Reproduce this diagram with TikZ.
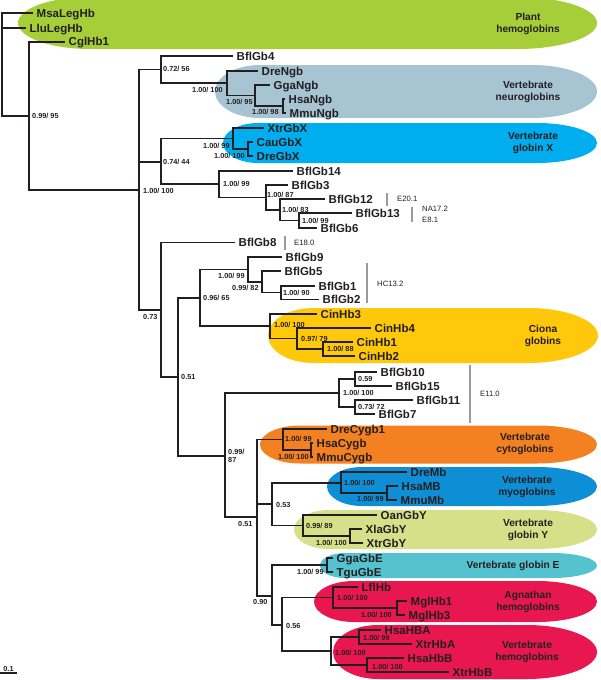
\documentclass[tikz,border=0pt]{standalone}
\usepackage{fontspec}
\setmainfont{Liberation Sans}
\usepackage{xcolor}
\usetikzlibrary{positioning}
\definecolor{treeline}{HTML}{231F20}
\definecolor{bargray}{HTML}{9A9A9A}
\definecolor{plantgreen}{HTML}{A6CE39}
\definecolor{ngbblue}{HTML}{A7C4D3}
\definecolor{gbxblue}{HTML}{00ADEE}
\definecolor{cionayellow}{HTML}{FFC80B}
\definecolor{cygborange}{HTML}{F38021}
\definecolor{mbblue}{HTML}{0E8FD5}
\definecolor{gbygreen}{HTML}{D5E188}
\definecolor{gbecyan}{HTML}{55C3CF}
\definecolor{hbred}{HTML}{E9174F}
\tikzset{
  branch/.style={draw=treeline, line width=1.8pt},
  leaf/.style={anchor=west, inner xsep=3.5pt, inner ysep=0pt, text height=8.2pt,
               text depth=0pt, text=treeline, font=\fontsize{11.5}{12}\selectfont\bfseries},
  supp/.style={anchor=west, inner sep=0pt, text=treeline, font=\fontsize{7.3}{8}\selectfont\bfseries},
  cladetxt/.style={align=center, inner sep=0pt, text=treeline,
                   font=\fontsize{10.2}{12}\selectfont\bfseries},
  grpbar/.style={draw=bargray, line width=2.6pt},
  grptxt/.style={anchor=west, align=left, inner sep=0pt, text=treeline,
                 font=\fontsize{7.7}{11}\selectfont},
}
% leaf: name = label, tip x, y
\newcommand{\leaf}[3]{\node[leaf] (#1) at (#2,#3) {#1};}
% support value of an inner node
\newcommand{\supp}[4]{\node[supp] (s#1) at (#2,#3) {#4};}
% coloured clade background: colour, left, right, centre y, half height, left/right radius
\newcommand{\cladebg}[7]{%
  \fill[#1] (#2+#6,#4-#5) -- (#3-#7,#4-#5)
    arc[start angle=-90, end angle=90, x radius=#7, y radius=#5]
    -- (#2+#6,#4+#5)
    arc[start angle=90, end angle=270, x radius=#6, y radius=#5] -- cycle;}

\begin{document}
\begin{tikzpicture}[x=1pt, y=-1pt]
  \useasboundingbox (0,0) rectangle (600,680);

  % clade backgrounds
  \cladebg{plantgreen}{18}{597}{23}{26}{72}{80}
  \cladebg{ngbblue}{215}{597}{91.5}{26.5}{45}{65}
  \cladebg{gbxblue}{223}{597}{143}{20}{35}{60}
  \cladebg{cionayellow}{268}{598}{335.5}{27.5}{45}{70}
  \cladebg{cygborange}{260}{597}{444.5}{19}{40}{60}
  \cladebg{mbblue}{327}{597}{486.5}{19.5}{35}{60}
  \cladebg{gbygreen}{294}{597}{529.5}{19.5}{35}{60}
  \cladebg{gbecyan}{320}{597}{565.5}{12.5}{25}{45}
  \cladebg{hbred}{314}{597}{601.5}{20.5}{40}{60}
  \cladebg{hbred}{333}{597}{652}{27}{45}{70}

  \node[cladetxt] (lPlant) at (528,24) {Plant\\hemoglobins};
  \node[cladetxt] (lNgb) at (528,91.5) {Vertebrate\\neuroglobins};
  \node[cladetxt] (lGbX) at (533,143) {Vertebrate\\globin X};
  \node[cladetxt] (lCin) at (543,335.5) {Ciona\\globins};
  \node[cladetxt] (lCygb) at (525,444) {Vertebrate\\cytoglobins};
  \node[cladetxt] (lMb) at (527,486.5) {Vertebrate\\myoglobins};
  \node[cladetxt] (lGbY) at (528,529.5) {Vertebrate\\globin Y};
  \node[cladetxt] (lGbE) at (513,565.5) {Vertebrate globin E};
  \node[cladetxt] (lAgn) at (528,601.5) {Agnathan\\hemoglobins};
  \node[cladetxt] (lHb) at (527,652) {Vertebrate\\hemoglobins};

  % inner nodes
  \coordinate (root) at (2,65);
  \coordinate (nCgl) at (29,116);
  \coordinate (nMeta) at (139,190);
  \coordinate (nNgb4) at (161,69.5);
  \coordinate (Ngb) at (227,83);
  \coordinate (Ngb2) at (255,95.5);
  \coordinate (Ngb3) at (283,106);
  \coordinate (nGbX14) at (161,162);
  \coordinate (GbX) at (233,138.5);
  \coordinate (GbX2) at (248,149);
  \coordinate (nBfl14) at (219,184);
  \coordinate (nBfl3) at (266,197.5);
  \coordinate (nBfl12) at (280,210);
  \coordinate (nBfl13) at (299,220.5);
  \coordinate (nBfl8) at (161,310);
  \coordinate (nCin) at (178,377);
  \coordinate (nBfl9Cin) at (200,298);
  \coordinate (nBfl9) at (248,269.5);
  \coordinate (nBfl5) at (262,282);
  \coordinate (nBfl1) at (281,292.5);
  \coordinate (Cin) at (270,326);
  \coordinate (Cin4) at (297,338.5);
  \coordinate (Cin1) at (323,349);
  \coordinate (nVert) at (225,456);
  \coordinate (nBfl10) at (339,393);
  \coordinate (nBfl15) at (355,379);
  \coordinate (nBfl7) at (355,407);
  \coordinate (nCygb) at (257,517);
  \coordinate (Cygb) at (283,439.5);
  \coordinate (Cygb2) at (311,450);
  \coordinate (nMbY) at (272,504);
  \coordinate (Mb) at (341,483);
  \coordinate (Mb2) at (387,493);
  \coordinate (GbY) at (303,525.5);
  \coordinate (GbY2) at (350,536);
  \coordinate (nGbE) at (272,596);
  \coordinate (GbE) at (327,565);
  \coordinate (nHb) at (282,625);
  \coordinate (Agn) at (333,597.5);
  \coordinate (Mgl) at (397,608);
  \coordinate (Hb) at (331,651);
  \coordinate (HbA) at (359,637);
  \coordinate (HbB) at (367,665);

  % leaves
  \leaf{MsaLegHb}{33}{13.3}
  \leaf{LluLegHb}{26}{28}
  \leaf{CglHb1}{65}{41.7}
  \leaf{BflGb4}{233}{56}
  \leaf{DreNgb}{258}{71}
  \leaf{GgaNgb}{270}{85}
  \leaf{HsaNgb}{285}{99}
  \leaf{MmuNgb}{286}{113}
  \leaf{XtrGbX}{264}{128}
  \leaf{CauGbX}{253}{142}
  \leaf{DreGbX}{253}{156}
  \leaf{BflGb14}{293}{171}
  \leaf{BflGb3}{288}{185}
  \leaf{BflGb12}{325}{199}
  \leaf{BflGb13}{352}{213}
  \leaf{BflGb6}{317}{228}
  \leaf{BflGb8}{235}{242.5}
  \leaf{BflGb9}{282}{257}
  \leaf{BflGb5}{281}{271}
  \leaf{BflGb1}{315}{286}
  \leaf{BflGb2}{319}{299.5}
  \leaf{CinHb3}{317}{314}
  \leaf{CinHb4}{371}{328}
  \leaf{CinHb1}{353}{342}
  \leaf{CinHb2}{355}{356}
  \leaf{BflGb10}{377}{372}
  \leaf{BflGb15}{392}{386}
  \leaf{BflGb11}{413}{400}
  \leaf{BflGb7}{375}{414}
  \leaf{DreCygb1}{327}{429}
  \leaf{HsaCygb}{313}{443}
  \leaf{MmuCygb}{313}{457}
  \leaf{DreMb}{407}{472}
  \leaf{HsaMB}{398}{486}
  \leaf{MmuMb}{397}{500}
  \leaf{OanGbY}{377}{515}
  \leaf{XlaGbY}{362}{529}
  \leaf{XtrGbY}{363}{543}
  \leaf{GgaGbE}{333}{558}
  \leaf{TguGbE}{333}{572}
  \leaf{LflHb}{358}{587}
  \leaf{MglHb1}{407}{601}
  \leaf{MglHb3}{405}{615}
  \leaf{HsaHBA}{381}{630}
  \leaf{XtrHbA}{412}{644}
  \leaf{HsaHbB}{404}{658}
  \leaf{XtrHbB}{449}{672}

  % branches
  \draw[branch] (root) |- (MsaLegHb) (root) |- (LluLegHb) (root) |- (nCgl);
  \draw[branch] (nCgl) |- (CglHb1) (nCgl) |- (nMeta);
  \draw[branch] (nMeta) |- (nNgb4) (nMeta) |- (nGbX14) (nMeta) |- (nBfl8);
  \draw[branch] (nNgb4) |- (BflGb4) (nNgb4) |- (Ngb);
  \draw[branch] (Ngb) |- (DreNgb) (Ngb) |- (Ngb2);
  \draw[branch] (Ngb2) |- (GgaNgb) (Ngb2) |- (Ngb3);
  \draw[branch] (Ngb3) |- (HsaNgb) (Ngb3) |- (MmuNgb);
  \draw[branch] (nGbX14) |- (GbX) (nGbX14) |- (nBfl14);
  \draw[branch] (GbX) |- (XtrGbX) (GbX) |- (GbX2);
  \draw[branch] (GbX2) |- (CauGbX) (GbX2) |- (DreGbX);
  \draw[branch] (nBfl14) |- (BflGb14) (nBfl14) |- (nBfl3);
  \draw[branch] (nBfl3) |- (BflGb3) (nBfl3) |- (nBfl12);
  \draw[branch] (nBfl12) |- (BflGb12) (nBfl12) |- (nBfl13);
  \draw[branch] (nBfl13) |- (BflGb13) (nBfl13) |- (BflGb6);
  \draw[branch] (nBfl8) |- (BflGb8) (nBfl8) |- (nCin);
  \draw[branch] (nCin) |- (nBfl9Cin) (nCin) |- (nVert);
  \draw[branch] (nBfl9Cin) |- (nBfl9) (nBfl9Cin) |- (Cin);
  \draw[branch] (nBfl9) |- (BflGb9) (nBfl9) |- (nBfl5);
  \draw[branch] (nBfl5) |- (BflGb5) (nBfl5) |- (nBfl1);
  \draw[branch] (nBfl1) |- (BflGb1) (nBfl1) |- (BflGb2);
  \draw[branch] (Cin) |- (CinHb3) (Cin) |- (Cin4);
  \draw[branch] (Cin4) |- (CinHb4) (Cin4) |- (Cin1);
  \draw[branch] (Cin1) |- (CinHb1) (Cin1) |- (CinHb2);
  \draw[branch] (nVert) |- (nBfl10) (nVert) |- (nCygb);
  \draw[branch] (nBfl10) |- (nBfl15) (nBfl10) |- (nBfl7);
  \draw[branch] (nBfl15) |- (BflGb10) (nBfl15) |- (BflGb15);
  \draw[branch] (nBfl7) |- (BflGb11) (nBfl7) |- (BflGb7);
  \draw[branch] (nCygb) |- (Cygb) (nCygb) |- (nMbY) (nCygb) |- (nGbE);
  \draw[branch] (Cygb) |- (DreCygb1) (Cygb) |- (Cygb2);
  \draw[branch] (Cygb2) |- (HsaCygb) (Cygb2) |- (MmuCygb);
  \draw[branch] (nMbY) |- (Mb) (nMbY) |- (GbY);
  \draw[branch] (Mb) |- (DreMb) (Mb) |- (Mb2);
  \draw[branch] (Mb2) |- (HsaMB) (Mb2) |- (MmuMb);
  \draw[branch] (GbY) |- (OanGbY) (GbY) |- (GbY2);
  \draw[branch] (GbY2) |- (XlaGbY) (GbY2) |- (XtrGbY);
  \draw[branch] (nGbE) |- (GbE) (nGbE) |- (nHb);
  \draw[branch] (GbE) |- (GgaGbE) (GbE) |- (TguGbE);
  \draw[branch] (nHb) |- (Agn) (nHb) |- (Hb);
  \draw[branch] (Agn) |- (LflHb) (Agn) |- (Mgl);
  \draw[branch] (Mgl) |- (MglHb1) (Mgl) |- (MglHb3);
  \draw[branch] (Hb) |- (HbA) (Hb) |- (HbB);
  \draw[branch] (HbA) |- (HsaHBA) (HbA) |- (XtrHbA);
  \draw[branch] (HbB) |- (HsaHbB) (HbB) |- (XtrHbB);

  % support values
  \supp{nCgl}{32}{116}{0.99/ 95}
  \supp{nMeta}{143}{191}{1.00/ 100}
  \supp{nNgb4}{163}{69}{0.72/ 56}
  \supp{Ngb}{192}{90}{1.00/ 100}
  \supp{Ngb2}{226}{102}{1.00/ 95}
  \supp{Ngb3}{252}{112}{1.00/ 98}
  \supp{nGbX14}{163}{162}{0.74/ 44}
  \supp{GbX}{203}{146}{1.00/ 99}
  \supp{GbX2}{214}{156}{1.00/ 100}
  \supp{nBfl14}{223}{184}{1.00/ 99}
  \supp{nBfl3}{267}{195}{1.00/ 87}
  \supp{nBfl12}{282}{210}{1.00/ 83}
  \supp{nBfl13}{302}{221}{1.00/ 99}
  \supp{nBfl8}{143}{317}{0.73}
  \supp{nCin}{181}{377}{0.51}
  \supp{nBfl9Cin}{203}{298}{0.96/ 65}
  \supp{nBfl9}{218}{276}{1.00/ 99}
  \supp{nBfl5}{232}{288}{0.99/ 82}
  \supp{nBfl1}{283}{293}{1.00/ 90}
  \supp{Cin}{274}{325}{1.00/ 100}
  \supp{Cin4}{301}{339}{0.97/ 79}
  \supp{Cin1}{327}{349}{1.00/ 88}
  \node[supp, align=left] (snVert) at (228,456) {0.99/\\87};
  \supp{nBfl10}{343}{393}{1.00/ 100}
  \supp{nBfl15}{358}{379}{0.59}
  \supp{nBfl7}{358}{407}{0.73/ 72}
  \supp{nCygb}{238}{524}{0.51}
  \supp{Cygb}{285}{439}{1.00/ 99}
  \supp{Cygb2}{278}{457}{1.00/ 100}
  \supp{nMbY}{276}{505}{0.53}
  \supp{Mb}{344}{483}{1.00/ 100}
  \supp{Mb2}{357}{499}{1.00/ 99}
  \supp{GbY}{306}{526}{0.99/ 89}
  \supp{GbY2}{316}{543}{1.00/ 100}
  \supp{nGbE}{253}{602}{0.90}
  \supp{GbE}{297}{572}{1.00/ 99}
  \supp{nHb}{286}{626}{0.56}
  \supp{Agn}{337}{598}{1.00/ 100}
  \supp{Mgl}{361}{615}{1.00/ 100}
  \supp{Hb}{335}{653}{1.00/ 100}
  \supp{HbA}{363}{638}{1.00/ 99}
  \supp{HbB}{372}{667}{1.00/ 100}

  % amphioxus group bars
  \draw[grpbar] (387,193) -- (387,206);
  \node[grptxt] (gE20) at (397,199) {E20.1};
  \draw[grpbar] (412,207) -- (412,222);
  \node[grptxt] (gNA17) at (422,214.5) {NA17.2\\E8.1};
  \draw[grpbar] (285,236) -- (285,250);
  \node[grptxt] (gE18) at (294,243) {E18.0};
  \draw[grpbar] (367,263) -- (367,303);
  \node[grptxt] (gHC13) at (377,284) {HC13.2};
  \draw[grpbar] (470,365) -- (470,423);
  \node[grptxt] (gE11) at (480,394) {E11.0};

  % scale bar
  \coordinate (sbA) at (0,673);
  \coordinate (sbB) at (17,673);
  \coordinate (sbM) at (8.5,673);
  \draw[treeline, line width=1.2pt] (sbA) -- (sbB);
  \node[supp, anchor=south, above=1.5pt of sbM] (sbTxt) {0.1};
\end{tikzpicture}
\end{document}
